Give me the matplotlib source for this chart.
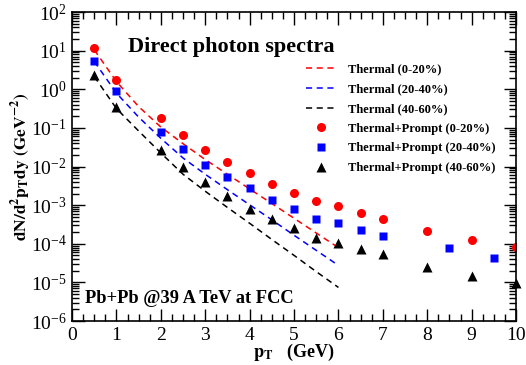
import matplotlib
matplotlib.use("Agg")
import matplotlib.pyplot as plt
from matplotlib.ticker import MultipleLocator, LogLocator, NullFormatter

plt.rcParams["font.family"] = "Liberation Serif"
plt.rcParams["mathtext.fontset"] = "stix"

# Thermal (hydro) curves
pt_th = [0.5, 1.0, 1.5, 2.0, 2.5, 3.0, 3.5, 4.0, 4.5, 5.0, 5.5, 6.0]
th_0_20 = [10.5, 1.58, 0.355, 0.105, 0.039, 0.0151, 0.0063, 0.00263, 0.0011, 0.000457, 0.00019, 0.0000794]
th_20_40 = [5.25, 0.794, 0.19, 0.0537, 0.0166, 0.0063, 0.00251, 0.00102, 0.000417, 0.000166, 0.0000676, 0.0000275]
th_40_60 = [2.14, 0.316, 0.0832, 0.0224, 0.0063, 0.00229, 0.00087, 0.000339, 0.000129, 0.0000501, 0.000019, 0.0000074]

# Thermal + prompt points
pt_a = [0.5, 1, 2, 2.5, 3, 3.5, 4, 4.5, 5, 5.5, 6, 6.5, 7, 8, 9, 10]
tp_0_20 = [11.5, 1.75, 0.18, 0.065, 0.027, 0.0128, 0.0068, 0.0036, 0.0021, 0.00125,
           0.00094, 0.00063, 0.00044, 0.00021, 0.000127, 0.000081]
pt_b = [0.5, 1, 2, 2.5, 3, 3.5, 4, 4.5, 5, 5.5, 6, 6.5, 7, 8.5, 9.5]
tp_20_40 = [5.5, 0.88, 0.078, 0.028, 0.0112, 0.0052, 0.0027, 0.00132, 0.00079, 0.00045,
            0.00034, 0.000233, 0.000163, 0.000076, 0.000044]
tp_40_60 = [2.3, 0.34, 0.027, 0.0095, 0.0039, 0.0017, 0.00081, 0.00043, 0.00026, 0.000145,
            0.000107, 0.000072, 0.000054, 0.0000247, 0.0000144, 0.0000095]

fig = plt.figure(figsize=(5.26, 3.65), dpi=100)
ax = fig.add_axes([0.137, 0.1205, 0.844, 0.8466])

dash = (0, (4, 3))
ax.plot(pt_th, th_0_20, color="red", ls=dash, lw=1.1, label="Thermal (0-20%)")
ax.plot(pt_th, th_20_40, color="blue", ls=dash, lw=1.1, label="Thermal (20-40%)")
ax.plot(pt_th, th_40_60, color="black", ls=dash, lw=1.1, label="Thermal (40-60%)")
ax.plot(pt_a, tp_0_20, "o", color="red", ms=6.5, mec="none", label="Thermal+Prompt (0-20%)")
ax.plot(pt_b, tp_20_40, "s", color="blue", ms=5.8, mec="none", label="Thermal+Prompt (20-40%)")
ax.plot(pt_a, tp_40_60, "^", color="black", ms=6.5, mec="none", label="Thermal+Prompt (40-60%)",
        clip_on=False)

ax.set_yscale("log")
ax.set_xlim(0, 10)
ax.set_ylim(1e-6, 1e2)

ax.xaxis.set_major_locator(MultipleLocator(1))
ax.xaxis.set_minor_locator(MultipleLocator(0.25))
ax.yaxis.set_major_locator(LogLocator(base=10, numticks=20))
ax.yaxis.set_minor_locator(LogLocator(base=10, subs=range(2, 10), numticks=20))
ax.yaxis.set_minor_formatter(NullFormatter())
ax.tick_params(which="both", direction="in", top=True, right=True, labelsize=14, width=1)
ax.tick_params(which="major", length=9, pad=4)
ax.tick_params(which="minor", length=5)
for s in ax.spines.values():
    s.set_linewidth(1.2)

ax.set_xlabel(r"$\mathbf{p_T}$   (GeV)", fontsize=13, fontweight="bold", labelpad=-1)
ax.set_ylabel(r"$\mathbf{dN/d^2p_Tdy\ (GeV^{-2})}$", fontsize=12.5, labelpad=-2)

ax.text(0.125, 0.887, "Direct photon spectra", transform=ax.transAxes, fontsize=16,
        fontweight="bold", va="center")
ax.text(0.03, 0.074, "Pb+Pb @39 A TeV at FCC", transform=ax.transAxes, fontsize=13.3,
        fontweight="bold", va="center")

leg = ax.legend(loc="upper left", bbox_to_anchor=(0.501, 0.87), frameon=False,
                prop={"family": "Liberation Serif", "weight": "bold", "size": 9},
                handlelength=2.4, labelspacing=0.62, handletextpad=1.0, numpoints=1)

fig.savefig("out.png", dpi=100)
